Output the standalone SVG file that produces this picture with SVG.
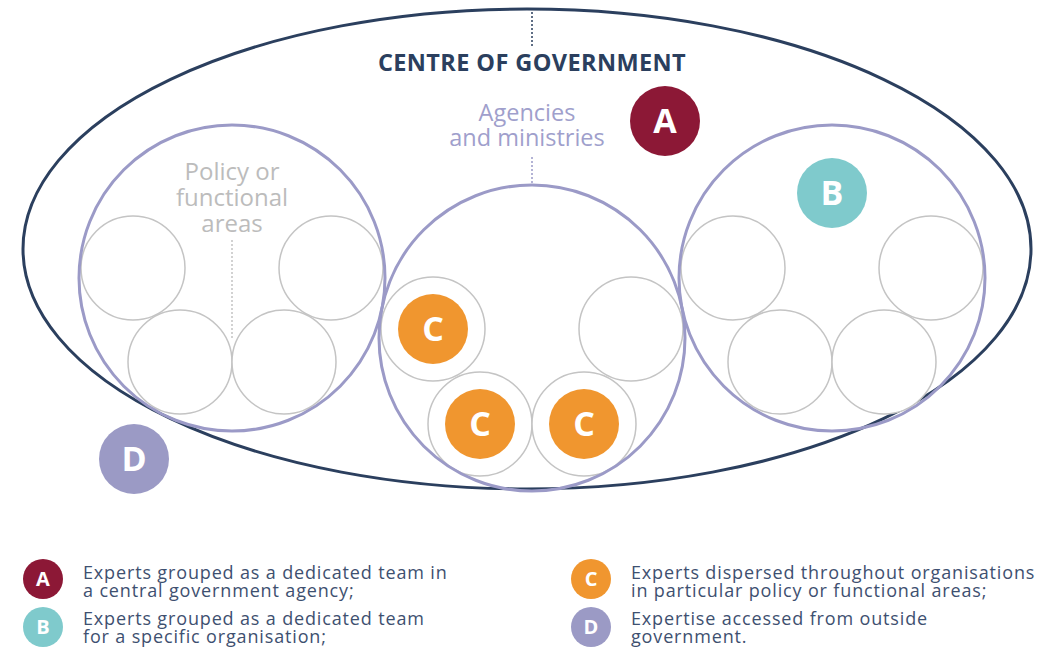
<svg xmlns="http://www.w3.org/2000/svg" width="1052" height="648" viewBox="0 0 1052 648">
<style>
.big{fill:none;stroke:#9b9ac7;stroke-width:3}
.sm{fill:#fff;stroke:#c4c4c4;stroke-width:1.5}
.badge{font-family:"Open Sans","Liberation Sans",sans-serif;font-weight:700;fill:#fff;text-anchor:middle}
.leg{font-family:"Open Sans","Liberation Sans",sans-serif;font-size:18px;letter-spacing:0.85px;fill:#3e5070}
.lab{font-family:"Open Sans","Liberation Sans",sans-serif;text-anchor:middle}
</style>
<rect width="1052" height="648" fill="#fff"/>
<g id="connectors">
<line x1="532" y1="12" x2="532" y2="46" stroke="#2b3f5e" stroke-width="1.5" stroke-dasharray="2 2"/>
<line x1="532" y1="157" x2="532" y2="184" stroke="#9b9ac7" stroke-width="1.5" stroke-dasharray="2 2"/>
<line x1="232" y1="240" x2="232" y2="338" stroke="#c4c4c4" stroke-width="1.5" stroke-dasharray="2 2"/>
</g>
<g id="centre">
<ellipse cx="527" cy="249" rx="504" ry="240" fill="none" stroke="#2b3f5e" stroke-width="3"/>
<text class="lab" x="532" y="71" font-weight="700" font-size="23.5" letter-spacing="0.4" fill="#2b3f5e">CENTRE OF GOVERNMENT</text>
<text class="lab" x="527" y="121" font-size="23.5" fill="#a09fcc">Agencies</text>
<text class="lab" x="527" y="146" font-size="23.5" fill="#a09fcc">and ministries</text>
</g>
<g id="left-agency">
<circle class="sm" cx="133" cy="268" r="52"/>
<circle class="sm" cx="331" cy="268" r="52"/>
<circle class="sm" cx="180" cy="362" r="52"/>
<circle class="sm" cx="284" cy="362" r="52"/>
<circle class="big" cx="232" cy="278" r="153"/>
<text class="lab" x="232" y="180" font-size="24" fill="#bcbcbc">Policy or</text>
<text class="lab" x="232" y="206" font-size="24" fill="#bcbcbc">functional</text>
<text class="lab" x="232" y="232" font-size="24" fill="#bcbcbc">areas</text>
</g>
<g id="middle-agency">
<circle class="sm" cx="433" cy="329" r="52"/>
<circle class="sm" cx="631" cy="329" r="52"/>
<circle class="sm" cx="480" cy="424" r="52"/>
<circle class="sm" cx="584" cy="424" r="52"/>
<circle class="big" cx="532" cy="338" r="153"/>
</g>
<g id="right-agency">
<circle class="sm" cx="733" cy="268" r="52"/>
<circle class="sm" cx="931" cy="268" r="52"/>
<circle class="sm" cx="780" cy="362" r="52"/>
<circle class="sm" cx="884" cy="362" r="52"/>
<circle class="big" cx="832" cy="278" r="153"/>
</g>
<g id="badge-a"><circle cx="665" cy="121" r="35" fill="#8c1836"/><text class="badge" x="665" y="133" font-size="34">A</text></g>
<g id="badge-b"><circle cx="832" cy="193" r="35" fill="#7fcacc"/><text class="badge" x="832" y="205" font-size="34">B</text></g>
<g id="badge-c1"><circle cx="433" cy="329" r="35" fill="#f0962f"/><text class="badge" x="433" y="341" font-size="34">C</text></g>
<g id="badge-c2"><circle cx="480" cy="424" r="35" fill="#f0962f"/><text class="badge" x="480" y="436" font-size="34">C</text></g>
<g id="badge-c3"><circle cx="584" cy="424" r="35" fill="#f0962f"/><text class="badge" x="584" y="436" font-size="34">C</text></g>
<g id="badge-d"><circle cx="134" cy="459" r="35" fill="#9b9ac5"/><text class="badge" x="134" y="471" font-size="34">D</text></g>
<g id="legend-a"><circle cx="43" cy="579" r="20" fill="#8c1836"/><text class="badge" x="43" y="586" font-size="20">A</text>
<text class="leg" x="83" y="579">Experts grouped as a dedicated team in</text><text class="leg" x="83" y="597">a central government agency;</text></g>
<g id="legend-b"><circle cx="43" cy="627" r="20" fill="#7fcacc"/><text class="badge" x="43" y="634" font-size="20">B</text>
<text class="leg" x="83" y="625">Experts grouped as a dedicated team</text><text class="leg" x="83" y="643">for a specific organisation;</text></g>
<g id="legend-c"><circle cx="591" cy="579" r="20" fill="#f0962f"/><text class="badge" x="591" y="586" font-size="20">C</text>
<text class="leg" x="631" y="579">Experts dispersed throughout organisations</text><text class="leg" x="631" y="597">in particular policy or functional areas;</text></g>
<g id="legend-d"><circle cx="591" cy="627" r="20" fill="#9b9ac5"/><text class="badge" x="591" y="634" font-size="20">D</text>
<text class="leg" x="631" y="625">Expertise accessed from outside</text><text class="leg" x="631" y="643">government.</text></g>
</svg>
